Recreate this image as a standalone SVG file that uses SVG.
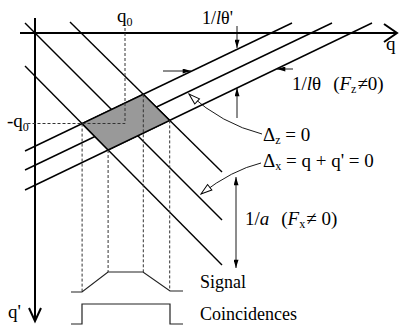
<svg xmlns="http://www.w3.org/2000/svg" width="400" height="331" viewBox="0 0 400 331">
<style>
.ax{stroke:#000;stroke-width:2;fill:none}
.ln{stroke:#000;stroke-width:1.4;fill:none}
.ds{stroke:#333;stroke-width:1;stroke-dasharray:3,2;fill:none}
.sg{stroke:#222;stroke-width:1.2;fill:none}
.th{stroke:#000;stroke-width:0.9;fill:none}
.lb text{font-size:18px;fill:#000}
.lb text.big{font-size:19px}
.it{font-style:italic}
.sb{font-size:12px}
</style>
<defs>
<marker id="arr" viewBox="0 0 10 6" refX="10" refY="3" markerWidth="9" markerHeight="5" markerUnits="userSpaceOnUse" orient="auto-start-reverse">
<path d="M0,0 L10,3 L0,6 z" fill="#000"/>
</marker>
<marker id="open" viewBox="0 0 13 9" refX="12" refY="4.5" markerWidth="13" markerHeight="9" markerUnits="userSpaceOnUse" orient="auto">
<path d="M1,1 L12,4.5 L1,8 z" fill="#fff" stroke="#000" stroke-width="1"/>
</marker>
</defs>

<g id="axes">
<line class="ax" x1="20" y1="33" x2="397" y2="33"/>
<polyline class="ax" points="384,24 397,33 384,42"/>
<line class="ax" x1="35" y1="18" x2="35" y2="320"/>
<polyline class="ax" points="29,308 35,321 41,308"/>
</g>

<g id="lines">
<line class="ln" x1="70" y1="22" x2="222" y2="172"/>
<line class="ln" x1="25" y1="23" x2="222" y2="220"/>
<line class="ln" x1="25" y1="66" x2="222" y2="265"/>
<line class="ln" x1="25" y1="151" x2="292" y2="23"/>
<line class="ln" x1="25" y1="170" x2="332" y2="23"/>
<line class="ln" x1="25" y1="190" x2="372" y2="23"/>
</g>

<g id="region">
<polygon points="82.1,123.6 143.3,94.3 169.7,120.4 108.1,150" fill="#999" stroke="#000" stroke-width="1.4"/>
</g>

<g id="dashes">
<polyline class="ds" points="125,28 125,123.5 27,123.5"/>
<line class="ds" x1="82.1" y1="123.6" x2="82.1" y2="292"/>
<line class="ds" x1="108.1" y1="150" x2="108.1" y2="272"/>
<line class="ds" x1="143.3" y1="94.3" x2="143.3" y2="272"/>
<line class="ds" x1="169.7" y1="120.4" x2="169.7" y2="291"/>
</g>

<g id="signal">
<polyline class="sg" points="71,292 82,292 108,272 143,272 170,291 183,291"/>
</g>
<g id="coincidences">
<polyline class="sg" points="71,324 82,324 82,304 170,304 170,324 183,324"/>
</g>

<g id="connectors">
<line class="th" x1="237" y1="26" x2="237" y2="48" marker-end="url(#arr)"/>
<line class="th" x1="237" y1="118" x2="237" y2="88" marker-end="url(#arr)"/>
<line class="th" x1="163" y1="71" x2="191" y2="71" marker-end="url(#arr)"/>
<line class="th" x1="293" y1="69" x2="277" y2="69" marker-end="url(#arr)"/>
<line class="th" x1="236" y1="177" x2="236" y2="268" marker-start="url(#arr)" marker-end="url(#arr)"/>
<path class="th" d="M262,134 Q222,124 189,94" marker-end="url(#open)"/>
<path class="th" d="M261,163 Q232,170 201,194" marker-end="url(#open)"/>
</g>

<g id="labels" class="lb" font-family="'Liberation Serif', 'Times New Roman', serif">
<text x="117" y="22" class="big">q<tspan class="sb" dy="4">0</tspan></text>
<text x="7" y="127" class="big">-q<tspan class="sb" dy="4">0</tspan></text>
<text x="386" y="50" class="big">q</text>
<text x="8" y="318" class="big">q'</text>
<text x="202" y="24">1/<tspan class="it">l</tspan>θ'</text>
<text x="292" y="90" class="big">1/<tspan class="it">l</tspan>θ<tspan dx="12">(</tspan><tspan class="it">F</tspan><tspan class="sb" dy="3">z</tspan><tspan dy="-3" dx="1">≠0)</tspan></text>
<text x="263" y="141" class="big">Δ<tspan class="sb" dy="3">z</tspan><tspan dy="-3"> = 0</tspan></text>
<text x="263" y="167" class="big">Δ<tspan class="sb" dy="3">x</tspan><tspan dy="-3"> = q + q' = 0</tspan></text>
<text x="245" y="225" class="big">1/<tspan class="it">a</tspan><tspan dx="12">(</tspan><tspan class="it">F</tspan><tspan class="sb" dy="3">x</tspan><tspan dy="-3" dx="1">≠ 0)</tspan></text>
<text x="200" y="288">Signal</text>
<text x="200" y="320">Coincidences</text>
</g>
</svg>
